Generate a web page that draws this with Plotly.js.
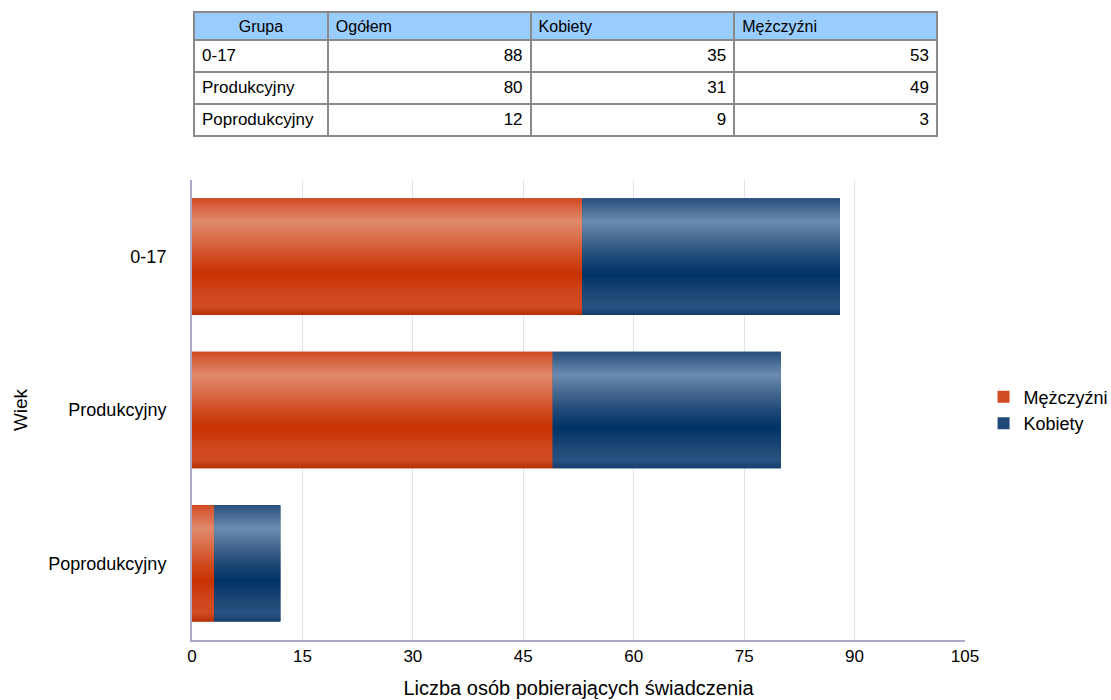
<!DOCTYPE html>
<html>
<head>
<meta charset="utf-8">
<script src="https://cdn.plot.ly/plotly-3.0.1.min.js"></script>
<style>html,body{margin:0;padding:0;background:#fff;}#chart{width:1111px;height:700px;}</style>
</head>
<body>
<div id="chart"></div>
<script>
const groups = ["0-17", "Produkcyjny", "Poprodukcyjny"];
const totals = [88, 80, 12];
const women = [35, 31, 9];
const men = [53, 49, 3];
const tableHeader = ["Grupa", "Ogółem", "Kobiety", "Mężczyźni"];
const xTicks = [0, 15, 30, 45, 60, 75, 90, 105];

// gradient profiles (top -> bottom of each bar)
const orangeStops = [[0,"#cf4a22"],[0.05,"#d65c38"],[0.2,"#e08a6c"],[0.35,"#d96c48"],[0.5,"#d04c22"],[0.65,"#c83200"],[0.82,"#cf4720"],[0.93,"#d04b25"],[1,"#b52e00"]];
const blueStops = [[0,"#2a5080"],[0.05,"#3a5e8a"],[0.2,"#6c8db0"],[0.35,"#46688f"],[0.5,"#1f4a78"],[0.65,"#003366"],[0.82,"#1d4775"],[0.93,"#2a5282"],[1,"#173c6a"]];

function hex2rgb(h){return [parseInt(h.substr(1,2),16),parseInt(h.substr(3,2),16),parseInt(h.substr(5,2),16)];}
function colorAt(stops,t){
  for(let i=0;i<stops.length-1;i++){
    const a=stops[i], b=stops[i+1];
    if(t>=a[0] && t<=b[0]){
      const f=(t-a[0])/(b[0]-a[0]);
      const ca=hex2rgb(a[1]), cb=hex2rgb(b[1]);
      return "rgb("+ca.map((v,j)=>Math.round(v+(cb[j]-v)*f)).join(",")+")";
    }
  }
  return stops[stops.length-1][1];
}

const W = 0.76, K = 58;
const traces = [];
function addSeries(name, xs, base, stops, legendColor){
  traces.push({type:"bar", orientation:"h", name:name, y:groups, x:xs, base:base,
    width:W, marker:{color:legendColor, line:{width:0}}, hoverinfo:"x+y+name", legendgroup:name});
  for(let k=0;k<K;k++){
    const off = -W/2 + k*W/K;
    const wd = Math.min(W/K*1.8, W/2 - off);
    traces.push({type:"bar", orientation:"h", name:name, y:groups, x:xs, base:base,
      offset:off, width:wd, marker:{color:colorAt(stops,(k+0.5)/K), line:{width:0}},
      showlegend:false, hoverinfo:"skip", legendgroup:name});
  }
}
addSeries("Mężczyźni", men, men.map(()=>0), orangeStops, "#d04a22");
addSeries("Kobiety", women, men, blueStops, "#1f4a78");

traces.push({
  type:"table",
  domain:{x:[0.0026,0.965], y:[0.798,0.997]},
  columnwidth:[134,203,204,203],
  header:{values:tableHeader, align:["center","left","left","left"],
    fill:{color:"#99ccff"}, line:{color:"#8a8a8a", width:2},
    font:{family:"Liberation Sans, Arial", size:16, color:"#000"}, height:28},
  cells:{values:[groups, totals, women, men], align:["left","right","right","right"],
    fill:{color:"#ffffff"}, line:{color:"#8a8a8a", width:2},
    font:{family:"Liberation Sans, Arial", size:17, color:"#000"}, height:32}
});

const layout = {
  width:1111, height:700,
  margin:{l:192, r:146, t:10, b:60, autoexpand:false},
  paper_bgcolor:"#fff", plot_bgcolor:"#fff",
  barmode:"overlay",
  font:{family:"Liberation Sans, Arial", color:"#000"},
  xaxis:{range:[0,105], tickvals:xTicks, ticktext:xTicks.map(String), showgrid:true, gridcolor:"#e2e2ef", gridwidth:1,
    zeroline:false, showline:true, linecolor:"#a8a8c8", linewidth:2, ticks:"", tickfont:{size:17},
    title:{text:"Liczba osób pobierających świadczenia", font:{size:20}, standoff:16}},
  yaxis:{domain:[0,0.7302], type:"category", autorange:"reversed", showgrid:false, zeroline:false,
    showline:true, linecolor:"#a8a8c8", linewidth:2, ticks:"", tickfont:{size:18}, ticklabelstandoff:20,
    title:{text:"Wiek", font:{size:19}, standoff:16}},
  legend:{x:1.024, xanchor:"left", y:0.365, yanchor:"middle", traceorder:"normal",
    font:{size:18}, itemwidth:30, tracegroupgap:0, bgcolor:"rgba(0,0,0,0)"},
  showlegend:true
};
Plotly.newPlot("chart", traces, layout, {displayModeBar:false, staticPlot:true});
</script>
</body>
</html>
